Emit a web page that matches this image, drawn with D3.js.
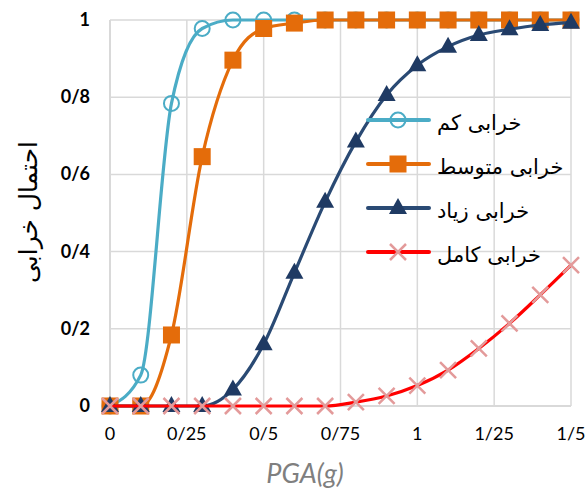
<!DOCTYPE html>
<html><head><meta charset="utf-8">
<script src="https://cdn.jsdelivr.net/npm/d3@7"></script>
<style>html,body{margin:0;padding:0;background:#fff;}</style>
</head><body>
<svg id="chart" width="585" height="488"></svg>
<script>
const pga = [0,0.1,0.2,0.3,0.4,0.5,0.6,0.7,0.8,0.9,1.0,1.1,1.2,1.3,1.4,1.5];
const slight   = [0,0.08,0.784,0.978,1,1,1,1,1,1,1,1,1,1,1,1];
const moderate = [0,0,0.184,0.646,0.896,0.978,0.992,1,1,1,1,1,1,1,1,1];
const extensive= [0,0,0,0,0.043,0.16,0.345,0.529,0.685,0.806,0.883,0.931,0.961,0.976,0.987,0.993];
const complete = [0,0,0,0,0,0,0,0,0.01,0.026,0.053,0.093,0.149,0.214,0.288,0.365];
const seriesNames = ["خرابی کم","خرابی متوسط","خرابی زیاد","خرابی کامل"];
const xTicks = [0,0.25,0.5,0.75,1,1.25,1.5];
const xTickLabels = ["0","0/25","0/5","0/75","1","1/25","1/5"];
const yTicks = [0,0.2,0.4,0.6,0.8,1];
const yTickLabels = ["0","0/2","0/4","0/6","0/8","1"];
const xTitle = "PGA(g)";
const yTitle = "احتمال خرابی";

const svg = d3.select("#chart");
const m = {l:110, r:14, t:20, b:82};
const W = 585, H = 488;
const x = d3.scaleLinear().domain([0,1.5]).range([m.l, W-m.r]);
const y = d3.scaleLinear().domain([0,1]).range([H-m.b, m.t]);

const grid = svg.append("g");
grid.selectAll(".vg").data(xTicks).join("line")
  .attr("x1", d=>x(d)).attr("x2", d=>x(d)).attr("y1", y(0)).attr("y2", y(1))
  .attr("stroke", "#d9d9d9").attr("stroke-width", d=>d===0?2:1.5);
grid.selectAll(".hg").data(yTicks).join("line")
  .attr("x1", x(0)).attr("x2", x(1.5)).attr("y1", d=>y(d)).attr("y2", d=>y(d))
  .attr("stroke", "#d9d9d9").attr("stroke-width", d=>d===0?2:1.5);

// tick labels
svg.append("g").selectAll("text").data(xTicks).join("text")
  .attr("x", d=>x(d)).attr("y", 440).attr("text-anchor","middle")
  .attr("font-family","Lato, 'Open Sans', sans-serif").attr("font-size",18).attr("fill","#000")
  .text((d,i)=>xTickLabels[i]);
svg.append("g").selectAll("text").data(yTicks).join("text")
  .attr("x", 90).attr("y", d=>y(d)+6).attr("text-anchor","end")
  .attr("font-family","Lato, 'Open Sans', sans-serif").attr("font-weight","bold").attr("font-size",18).attr("fill","#000")
  .text((d,i)=>yTickLabels[i]);

// titles
svg.append("text").attr("x", 305).attr("y", 483).attr("text-anchor","middle")
  .attr("font-family","Lato, 'Open Sans', sans-serif").attr("font-style","italic")
  .attr("font-size",27).attr("fill","#7f7f7f").text(xTitle);
svg.append("text").attr("transform","translate(37,212) rotate(-90)").attr("text-anchor","middle")
  .attr("font-family","'DejaVu Sans', sans-serif").attr("font-size",25).attr("fill","#000").text(yTitle);

const series = [
  {name:seriesNames[0], vals:slight, color:"#4bacc6", marker:"circle"},
  {name:seriesNames[1], vals:moderate, color:"#e46c0a", marker:"square"},
  {name:seriesNames[2], vals:extensive, color:"#1f3a63", lineColor:"#2a4a74", marker:"triangle"},
  {name:seriesNames[3], vals:complete, color:"#ff0000", marker:"cross"}
];

const line = d3.line().x(d=>x(d[0])).y(d=>y(d[1])).curve(d3.curveMonotoneX);

function drawMarker(g, type, cx, cy, color){
  if(type==="circle"){
    g.append("circle").attr("cx",cx).attr("cy",cy).attr("r",7.5)
      .attr("fill","none").attr("stroke",color).attr("stroke-width",2);
  } else if(type==="square"){
    g.append("rect").attr("x",cx-8.5).attr("y",cy-8.5).attr("width",17).attr("height",17).attr("fill",color);
  } else if(type==="triangle"){
    g.append("path").attr("d",`M${cx},${cy-10}L${cx+9},${cy+6}L${cx-9},${cy+6}Z`).attr("fill",color);
  } else {
    g.append("path").attr("d",`M${cx-8},${cy-8}L${cx+8},${cy+8}M${cx-8},${cy+8}L${cx+8},${cy-8}`)
      .attr("stroke","#e39a9a").attr("stroke-width",2.5).attr("fill","none");
  }
}

series.forEach(s=>{
  const g = svg.append("g");
  const pts = pga.map((p,i)=>[p, s.vals[i]]);
  g.append("path").attr("d", line(pts)).attr("fill","none")
    .attr("stroke", s.lineColor||s.color).attr("stroke-width",3.2);
  pts.forEach(p=>drawMarker(g, s.marker, x(p[0]), y(p[1]), s.color));
});

// legend
const legRows = [120,164,208,252];
series.forEach((s,i)=>{
  const g = svg.append("g");
  const cy = legRows[i];
  g.append("line").attr("x1",368).attr("x2",429).attr("y1",cy).attr("y2",cy)
    .attr("stroke", s.lineColor||s.color).attr("stroke-width",4).attr("stroke-linecap","round");
  drawMarker(g, s.marker, 398, cy, s.color);
  g.append("text").attr("x",437).attr("y",cy+10).attr("text-anchor","start")
    .attr("font-family","'DejaVu Sans', sans-serif").attr("font-size",21).attr("fill","#000")
    .text(s.name);
});
</script>
</body></html>
